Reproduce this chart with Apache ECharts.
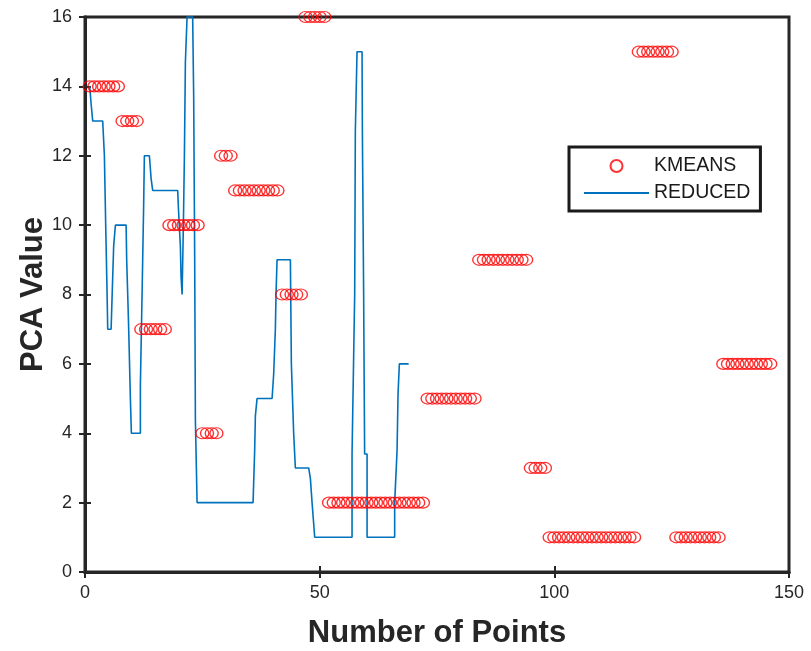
<!DOCTYPE html>
<html>
<head>
<meta charset="utf-8">
<script src="https://cdn.jsdelivr.net/npm/echarts@6/dist/echarts.min.js"></script>
<style>html,body{margin:0;padding:0;background:#fff;}#chart{width:811px;height:651px;}</style>
</head>
<body>
<div id="chart"></div>
<script>
// KMEANS cluster value for point numbers 1..146
var kmeansValues = [
  14,14,14,14,14,14,14,
  13,13,13,13,
  7,7,7,7,7,7,
  10,10,10,10,10,10,10,
  4,4,4,4,
  12,12,12,
  11,11,11,11,11,11,11,11,11,11,
  8,8,8,8,8,
  16,16,16,16,16,
  2,2,2,2,2,2,2,2,2,2,2,2,2,2,2,2,2,2,2,2,2,
  5,5,5,5,5,5,5,5,5,5,5,
  9,9,9,9,9,9,9,9,9,9,9,
  3,3,3,3,
  1,1,1,1,1,1,1,1,1,1,1,1,1,1,1,1,1,1,1,
  15,15,15,15,15,15,15,15,
  1,1,1,1,1,1,1,1,1,1,
  6,6,6,6,6,6,6,6,6,6,6
];
// REDUCED line vertices
var reducedX = [1,1.3,1.64,3.77,4.13,4.41,4.71,4.84,5.56,5.9,6.11,6.48,8.76,8.88,9.1,9.31,9.67,9.88,11.8,11.8,12.16,12.16,12.5,12.65,13.72,14.08,14.42,19.75,19.9,20.32,20.47,20.69,20.96,21.18,21.39,21.75,22.94,23.16,23.37,23.52,23.88,35.81,36.15,36.3,36.66,39.86,40.2,40.56,40.7,40.92,43.76,43.97,44.46,44.82,47.66,48.02,48.38,48.72,48.94,56.9,56.9,57.24,57.46,57.6,57.96,59.03,59.1,59.37,59.58,60.1,60.1,65.98,65.98,66.28,66.49,66.7,66.98,68.96];
var reducedY = [14,13.5,13,13,12,10,8,7,7,8.5,9.4,10,10,9,8,7,5,4,4,5.4,5.4,8,10.6,12,12,11.35,11,11,10.5,9.4,8.5,8,10,12,14.7,16,16,13.65,9.05,4.4,2,2,3.5,4.5,5,5,5.7,7,8,9,9,6,4,3,3,2.7,2,1.4,1,1,3.4,3.4,8,12.7,15,15,12.7,8,3.4,3.4,1,1,2,2,3.5,5.15,6,6];
var xTicks = [0, 50, 100, 150];
var yTicks = [0, 2, 4, 6, 8, 10, 12, 14, 16];

var kmeansData = kmeansValues.map(function (v, i) { return [i + 1, v]; });
var reducedData = reducedX.map(function (x, i) { return [x, reducedY[i]]; });

var axisColor = '#262626';
var font = 'Liberation Sans, Arial, sans-serif';
var chart = echarts.init(document.getElementById('chart'), null, {renderer: 'canvas'});
var tickStyle = {show: true, inside: true, length: 6, lineStyle: {color: axisColor, width: 2}};
chart.setOption({
  backgroundColor: '#ffffff',
  animation: false,
  grid: {left: 85, right: 22, top: 17, bottom: 79, containLabel: false, outerBoundsMode: 'none',
         show: true, borderColor: axisColor, borderWidth: 3, backgroundColor: 'transparent'},
  xAxis: [{
    type: 'value', min: xTicks[0], max: xTicks[xTicks.length - 1], interval: 50,
    name: 'Number of Points', nameLocation: 'middle', nameGap: 46, nameMoveOverlap: false,
    nameTextStyle: {fontFamily: font, fontWeight: 'bold', fontSize: 31, color: axisColor},
    axisLine: {show: true, lineStyle: {color: axisColor, width: 3}},
    axisTick: tickStyle, splitLine: {show: false},
    axisLabel: {fontFamily: font, fontSize: 18, color: axisColor, margin: 12}
  }, {
    type: 'value', position: 'top', min: xTicks[0], max: xTicks[xTicks.length - 1], interval: 50,
    axisLine: {show: true, lineStyle: {color: axisColor, width: 3}},
    axisTick: tickStyle, splitLine: {show: false}, axisLabel: {show: false}
  }],
  yAxis: [{
    type: 'value', min: yTicks[0], max: yTicks[yTicks.length - 1], interval: 2,
    name: 'PCA Value', nameLocation: 'middle', nameGap: 36, nameMoveOverlap: false,
    nameTextStyle: {fontFamily: font, fontWeight: 'bold', fontSize: 31, color: axisColor},
    axisLine: {show: true, lineStyle: {color: axisColor, width: 3}},
    axisTick: tickStyle, splitLine: {show: false},
    axisLabel: {fontFamily: font, fontSize: 18, color: axisColor, margin: 13}
  }, {
    type: 'value', position: 'right', min: yTicks[0], max: yTicks[yTicks.length - 1], interval: 2,
    axisLine: {show: true, lineStyle: {color: axisColor, width: 3}},
    axisTick: tickStyle, splitLine: {show: false}, axisLabel: {show: false}
  }],
  legend: {
    orient: 'vertical', left: 569, top: 147,
    padding: [9, 10, 8, 14],
    itemWidth: 65, itemHeight: 12, itemGap: 7,
    backgroundColor: '#ffffff', borderColor: '#1a1a1a', borderWidth: 3, borderRadius: 0,
    textStyle: {fontFamily: font, fontSize: 19.5, color: '#1a1a1a', lineHeight: 20},
    data: [
      {name: 'KMEANS'},
      {name: 'REDUCED', itemStyle: {opacity: 0}}
    ]
  },
  series: [{
    name: 'KMEANS', type: 'scatter', data: kmeansData,
    symbol: 'circle', symbolSize: [13, 11],
    itemStyle: {color: 'rgba(255,255,255,0)', borderColor: '#ff0000', borderWidth: 1.3},
    clip: false, z: 3
  }, {
    name: 'REDUCED', type: 'line', data: reducedData,
    symbol: 'none', showSymbol: false,
    lineStyle: {color: '#0072BD', width: 1.6},
    itemStyle: {color: '#0072BD'},
    clip: false, z: 2
  }]
});
</script>
</body>
</html>
